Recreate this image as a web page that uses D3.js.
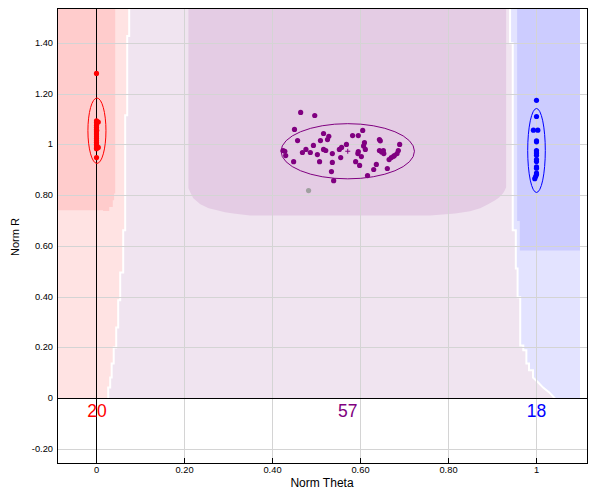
<!DOCTYPE html>
<html><head><meta charset="utf-8">
<script src="https://cdn.jsdelivr.net/npm/d3@7"></script>
<style>body{margin:0;background:#fff}svg{display:block}</style>
</head><body>
<svg id="chart" width="590" height="499"></svg>
<script>
// ---------- data ----------
const xTicks = [0, 0.2, 0.4, 0.6, 0.8, 1];
const xTickLabels = ["0", "0.20", "0.40", "0.60", "0.80", "1"];
const yTicks = [-0.2, 0, 0.2, 0.4, 0.6, 0.8, 1, 1.2, 1.4];
const yTickLabels = ["-0.20", "0", "0.20", "0.40", "0.60", "0.80", "1", "1.20", "1.40"];
const xDomain = [-0.08864, 1.11591];
const yDomain = [-0.2563, 1.5379];

const clusterCounts = [20, 57, 18];
const clusterColors = ["#ff0000", "#800080", "#0000ff"];

const redTheta = [0, 0, 0.004, 0, 0, 0, 0, 0, 0, 0, 0, 0, 0, 0, 0, 0, 0.004, 0, 0, 0];
const redR = [1.282, 1.095, 1.090, 1.088, 1.078, 1.070, 1.062, 1.055, 1.047, 1.040, 1.032, 1.025, 1.017, 1.010, 1.003, 0.997, 0.990, 0.988, 0.985, 0.950];

const purpleTheta = [0.464, 0.496, 0.450, 0.516, 0.528, 0.525, 0.509, 0.457, 0.582, 0.595, 0.605, 0.493, 0.476, 0.468, 0.486, 0.424, 0.430, 0.448, 0.502, 0.516, 0.521, 0.536, 0.507, 0.536, 0.534, 0.539, 0.555, 0.552, 0.557, 0.568, 0.589, 0.598, 0.595, 0.594, 0.602, 0.607, 0.609, 0.611, 0.643, 0.645, 0.643, 0.652, 0.653, 0.636, 0.630, 0.616, 0.661, 0.665, 0.670, 0.677, 0.683, 0.686, 0.689, 0.428, 0.648, 0.675];
const purpleR = [1.128, 1.116, 1.061, 1.045, 1.034, 1.021, 1.017, 1.017, 1.037, 1.037, 1.057, 0.998, 0.982, 0.970, 0.970, 0.978, 0.958, 0.934, 0.962, 0.982, 0.978, 0.966, 0.934, 0.931, 0.895, 0.859, 0.950, 0.982, 0.990, 1.002, 0.934, 0.919, 0.974, 0.966, 0.954, 0.996, 1.009, 0.982, 1.021, 1.016, 0.978, 0.978, 0.966, 0.923, 0.903, 0.879, 0.907, 0.942, 0.950, 0.958, 0.966, 0.978, 1.002, 0.975, 0.972, 0.955];

const blueTheta = [1, 1, 0.993, 1.003, 1, 1, 1, 1, 1, 1, 1, 1, 1, 1, 1, 1, 0.998, 0.996];
const blueR = [1.176, 1.112, 1.058, 1.058, 1.016, 1.012, 0.978, 0.972, 0.966, 0.959, 0.942, 0.935, 0.913, 0.908, 0.889, 0.883, 0.875, 0.867];

const outlierTheta = [0.482];
const outlierR = [0.820];

// ellipses: [centerTheta, centerR, radiusTheta, radiusR]
const ellipseRed = [0.001, 1.056, 0.0205, 0.129];
const ellipsePurple = [0.571, 0.975, 0.1516, 0.1088];
const ellipseBlue = [1.0, 0.978, 0.020, 0.1656];

// region boundaries (theta, r)
const leftBoundary = [[0.0743,1.7],[0.0743,1.429],[0.0698,1.429],[0.0698,1.117],[0.0652,1.117],[0.0652,0.663],[0.0607,0.663],[0.0607,0.497],[0.0539,0.497],[0.0539,0.387],[0.0493,0.387],[0.0493,0.280],[0.0448,0.280],[0.0448,0.201],[0.0391,0.201],[0.0391,0.138],[0.0345,0.138],[0.0345,0.083],[0.0311,0.083],[0.0311,0.043],[0.0266,0.043],[0.0266,0]];
const rightBoundary = [[0.940,1.7],[0.940,1.401],[0.946,1.401],[0.946,0.663],[0.953,0.663],[0.953,0.513],[0.957,0.513],[0.957,0.399],[0.963,0.399],[0.963,0.209],[0.970,0.209],[0.970,0.190],[0.977,0.190],[0.977,0.138],[0.983,0.138],[0.983,0.111],[0.992,0.111],[0.992,0.083],[1.004,0.063],[1.015,0.043],[1.029,0.024],[1.042,0]];
const regionRight = 1.0989;
const darkRed = [[-0.3,1.7],[0.0425,1.7],[0.0425,0.808],[0.040,0.808],[0.040,0.782],[0.037,0.782],[0.037,0.755],[0.029,0.755],[0.029,0.739],[0.015,0.739],[0.015,0.742],[-0.3,0.742]];
const darkPurple = [[0.209,1.7],[0.209,0.829],[0.213,0.813],[0.220,0.790],[0.228,0.778],[0.236,0.766],[0.255,0.750],[0.274,0.742],[0.292,0.734],[0.311,0.730],[0.349,0.722],[0.758,0.722],[0.815,0.730],[0.849,0.738],[0.872,0.750],[0.890,0.766],[0.906,0.782],[0.915,0.793],[0.924,0.809],[0.928,0.821],[0.931,0.833],[0.931,1.7]];
const darkBlue = [[0.956,1.7],[0.956,0.70],[0.962,0.70],[0.962,0.584],[1.0989,0.584],[1.0989,1.7]];

const regionColors = {lightRed:"#ffe3e3", darkRed:"#ffcccc", lightPurple:"#f0e4f0", darkPurple:"#e4cce4", lightBlue:"#e3e3ff", darkBlue:"#ccccff"};

// ---------- scales ----------
const svg = d3.select("#chart");
const xg = d3.scaleLinear().domain(xDomain).range([57, 587]).interpolate(d3.interpolateRound);
const yg = d3.scaleLinear().domain(yDomain).range([463, 8]).interpolate(d3.interpolateRound);
const x = d3.scaleLinear().domain(xDomain).range([57.5, 587.5]);
const y = d3.scaleLinear().domain(yDomain).range([463.5, 8.5]);

svg.append("defs").append("clipPath").attr("id","plotclip")
  .append("rect").attr("x",57.5).attr("y",8.5).attr("width",530).attr("height",455);

const plot = svg.append("g").attr("clip-path","url(#plotclip)");
const line = d3.line().x(d => x(d[0])).y(d => y(d[1]));

// base light purple
plot.append("path").attr("d", line([[-0.3,0],[regionRight,0],[regionRight,1.7],[-0.3,1.7]]) + "Z").attr("fill", regionColors.lightPurple);
// light red
plot.append("path").attr("d", line([[-0.3,1.7]].concat(leftBoundary,[[-0.3,0]])) + "Z").attr("fill", regionColors.lightRed);
// light blue
plot.append("path").attr("d", line(rightBoundary.concat([[regionRight,0],[regionRight,1.7]])) + "Z").attr("fill", regionColors.lightBlue);
// white separators
[leftBoundary, rightBoundary].forEach(b => {
  plot.append("path").attr("d", line(b)).attr("fill","none").attr("stroke","#fff").attr("stroke-width",2);
});
// dark regions
plot.append("path").attr("d", line(darkRed) + "Z").attr("fill", regionColors.darkRed);
plot.append("path").attr("d", line(darkPurple) + "Z").attr("fill", regionColors.darkPurple);
plot.append("path").attr("d", line(darkBlue) + "Z").attr("fill", regionColors.darkBlue);

// grid lines
const grid = svg.append("g");
xTicks.filter(v => v !== 0).forEach(v => {
  grid.append("line").attr("x1", xg(v)+0.5).attr("x2", xg(v)+0.5).attr("y1", 8).attr("y2", 463)
    .attr("stroke", "#d4d4d4").attr("stroke-width", 1);
});
yTicks.filter(v => v !== 0).forEach(v => {
  grid.append("line").attr("x1", 57).attr("x2", 587).attr("y1", yg(v)+0.5).attr("y2", yg(v)+0.5)
    .attr("stroke", "#d4d4d4").attr("stroke-width", 1);
});
// zero lines
grid.append("line").attr("x1", xg(0)+0.5).attr("x2", xg(0)+0.5).attr("y1", 8).attr("y2", 463).attr("stroke","#000");
grid.append("line").attr("x1", 57).attr("x2", 587).attr("y1", yg(0)+0.5).attr("y2", yg(0)+0.5).attr("stroke","#000");

// ellipses
const ells = [ellipseRed, ellipsePurple, ellipseBlue];
ells.forEach((e, i) => {
  svg.append("ellipse")
    .attr("cx", x(e[0])).attr("cy", y(e[1]))
    .attr("rx", x(e[0]+e[2]) - x(e[0])).attr("ry", y(e[1]) - y(e[1]+e[3]))
    .attr("fill","none").attr("stroke", clusterColors[i]).attr("stroke-width", 1);
});

// points
function drawPts(th, r, color) {
  svg.append("g").selectAll("circle").data(th.map((t, i) => [t, r[i]])).join("circle")
    .attr("cx", d => x(d[0])).attr("cy", d => y(d[1])).attr("r", 2.6).attr("fill", color);
}
drawPts(purpleTheta, purpleR, clusterColors[1]);
drawPts(outlierTheta, outlierR, "#a0a0a0");
drawPts(redTheta, redR, clusterColors[0]);
drawPts(blueTheta, blueR, clusterColors[2]);

// mean crosses
ells.forEach((e, i) => {
  const cx = x(e[0]), cy = y(e[1]);
  svg.append("path").attr("d", `M${cx-2.5},${cy}H${cx+2.5}M${cx},${cy-2.5}V${cy+2.5}`)
    .attr("stroke", clusterColors[i]).attr("stroke-width", 1);
});

// frame
svg.append("rect").attr("x",57.5).attr("y",8.5).attr("width",530).attr("height",455)
  .attr("fill","none").attr("stroke","#000").attr("stroke-width",1);

// axes
const fontFam = "'Liberation Sans', Arial, sans-serif";
const xAxis = svg.append("g").attr("transform","translate(0,463)")
  .call(d3.axisBottom(xg).tickValues(xTicks).tickFormat((d,i) => xTickLabels[i]).tickSizeInner(-5).tickSizeOuter(0).tickPadding(3));
xAxis.select(".domain").remove();
xAxis.selectAll("text").attr("font-family", fontFam).attr("font-size", "9.3px").attr("fill","#000");

const yAxis = svg.append("g").attr("transform","translate(57,0)")
  .call(d3.axisLeft(yg).tickValues(yTicks).tickFormat((d,i) => yTickLabels[i]).tickSizeInner(0).tickSizeOuter(0).tickPadding(4));
yAxis.select(".domain").remove();
yAxis.selectAll("line").remove();
yAxis.selectAll("text").attr("font-family", fontFam).attr("font-size", "9.3px").attr("fill","#000");

// titles
svg.append("text").attr("x", 322).attr("y", 487).attr("text-anchor","middle")
  .attr("font-family", fontFam).attr("font-size","12px").text("Norm Theta");
svg.append("text").attr("transform","translate(19,237) rotate(-90)").attr("text-anchor","middle")
  .attr("font-family", fontFam).attr("font-size","11px").text("Norm R");

// counts
ells.forEach((e, i) => {
  svg.append("text").attr("x", x(e[0])).attr("y", 417).attr("text-anchor","middle")
    .attr("font-family", fontFam).attr("font-size","17.5px").attr("fill", clusterColors[i])
    .text(clusterCounts[i]);
});
</script>
</body></html>
